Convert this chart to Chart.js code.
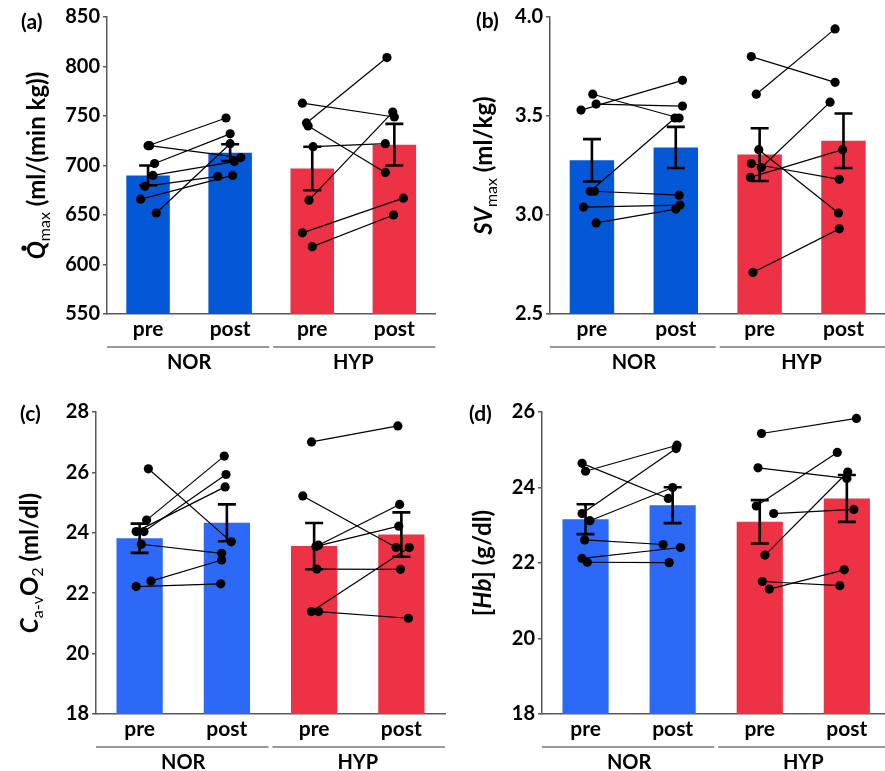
<!DOCTYPE html>
<html>
<head>
<meta charset="utf-8">
<script src="https://cdn.jsdelivr.net/npm/chart.js@4.4.0/dist/chart.umd.min.js"></script>
<style>
  html, body { margin: 0; padding: 0; background: #fff; overflow: hidden; width: 885px; height: 771px; }
  .panel { position: absolute; }
</style>
</head>
<body>
<div class="panel" style="left:0;top:0"><canvas id="pa" width="440" height="380"></canvas></div>
<div class="panel" style="left:440px;top:0"><canvas id="pb" width="450" height="380"></canvas></div>
<div class="panel" style="left:0;top:380px"><canvas id="pc" width="450" height="391"></canvas></div>
<div class="panel" style="left:440px;top:380px"><canvas id="pd" width="455" height="391"></canvas></div>
<script>
const categories = ['pre', 'post', 'pre', 'post'];
const groups = ['NOR', 'HYP'];

// (a) Q max
const qMean = [690, 713, 697, 721];
const qSem = [10, 8.5, 22, 21];
const qNorPre = [720, 720, 702, 690, 679, 666, 652];
const qNorPost = [748, 708, 732, 704, 689, 690, 722];
const qHypPre = [763, 743, 740, 719, 665, 632, 618];
const qHypPost = [749, 809, 693, 722, 754, 667, 650];

// (b) SV max
const svMean = [3.276, 3.341, 3.305, 3.375];
const svSem = [0.107, 0.104, 0.133, 0.138];
const svNorPre = [3.61, 3.56, 3.53, 3.12, 3.12, 3.04, 2.96];
const svNorPost = [3.49, 3.55, 3.68, 3.49, 3.10, 3.05, 3.03];
const svHypPre = [3.80, 3.61, 3.33, 3.26, 3.24, 3.19, 2.71];
const svHypPost = [3.67, 3.94, 3.01, 3.18, 3.57, 3.33, 2.93];

// (c) Ca-vO2
const caMean = [23.82, 24.33, 23.56, 23.94];
const caSem = [0.485, 0.61, 0.765, 0.735];
const caNorPre = [26.12, 24.42, 24.04, 24.04, 23.62, 22.40, 22.22];
const caNorPost = [23.70, 26.54, 25.93, 25.52, 23.32, 23.10, 22.31];
const caHypPre = [27.01, 25.22, 23.59, 23.55, 22.80, 21.39, 21.39];
const caHypPost = [27.54, 23.51, 24.94, 24.22, 22.79, 23.51, 21.17];

// (d) [Hb]
const hbMean = [23.16, 23.53, 23.09, 23.71];
const hbSem = [0.395, 0.475, 0.575, 0.62];
const hbNorPre = [24.64, 24.43, 23.31, 23.12, 22.61, 22.12, 22.02];
const hbNorPost = [23.71, 25.12, 25.03, 24.00, 22.49, 22.41, 22.01];
const hbHypPre = [25.43, 24.52, 23.51, 23.31, 22.21, 21.51, 21.31];
const hbHypPost = [25.83, 24.24, 24.93, 23.42, 24.41, 21.40, 21.82];

// horizontal jitter of the individual dots (fraction of a category)
const qJit = [[0, 0.02, 0.08, 0.06, -0.04, -0.09, 0.10], [-0.05, 0.13, 0, 0.05, -0.15, 0.03, 0],
              [-0.12, -0.07, -0.05, 0.01, -0.04, -0.12, 0], [0, -0.09, -0.11, -0.11, -0.02, 0.11, -0.01]];
const svJit = [[0.01, 0.05, -0.13, -0.02, 0.03, -0.10, 0.05], [0.04, 0.08, 0.08, -0.01, 0.04, 0.05, 0],
               [-0.10, -0.04, -0.01, -0.10, 0.02, -0.11, -0.08], [-0.10, -0.10, -0.06, -0.05, -0.16, -0.01, -0.05]];
const caJit = [[0.10, 0.08, 0.05, -0.04, 0.02, 0.13, -0.04], [0.05, -0.03, -0.01, -0.02, -0.06, -0.06, -0.07],
               [-0.03, -0.13, 0.05, 0.02, 0.03, -0.03, 0.05], [-0.04, -0.06, -0.02, -0.03, -0.01, 0.09, 0.08]];
const hbJit = [[-0.04, 0, -0.04, 0.05, -0.01, -0.04, 0.02], [-0.05, 0.05, 0.04, 0, -0.11, 0.09, -0.04],
               [0.02, -0.02, -0.04, 0.16, 0.06, 0.03, 0.11], [0.11, 0, -0.11, 0.08, 0.01, -0.08, -0.03]];

const RED = '#ee3246';
const AXIS = '#5a5a5a';
const FONT = 'Lato, "Open Sans", sans-serif';

const panels = [
    { id: 'pa', letter: '(a)', mean: qMean, sem: qSem, sets: [qNorPre, qNorPost, qHypPre, qHypPost], jit: qJit,
      yMin: 550, yMax: 850, step: 50, dec: 0, blue: '#0457d5',
      yWidth: 107, padTop: 17, padRight: 2, xHeight: 66, titleX: 37, letterX: 21, letterY: 22,
      title: [{ t: 'Q', it: true, dot: true }, { t: 'max', sub: true }, { t: ' (ml/(min kg))' }] },
    { id: 'pb', letter: '(b)', mean: svMean, sem: svSem, sets: [svNorPre, svNorPost, svHypPre, svHypPost], jit: svJit,
      yMin: 2.5, yMax: 4.0, step: 0.5, dec: 1, blue: '#0457d5',
      yWidth: 110, padTop: 17, padRight: 3, xHeight: 66, titleX: 44, letterX: 36, letterY: 21,
      title: [{ t: 'SV', it: true }, { t: 'max', sub: true }, { t: ' (ml/kg)' }] },
    { id: 'pc', letter: '(c)', mean: caMean, sem: caSem, sets: [caNorPre, caNorPost, caHypPre, caHypPost], jit: caJit,
      yMin: 18, yMax: 28, step: 2, dec: 0, blue: '#2b69f6',
      yWidth: 96, padTop: 32, padRight: 5, xHeight: 57, titleX: 30, letterX: 20, letterY: 34,
      title: [{ t: 'C', it: true }, { t: 'a-v', sub: true }, { t: 'O' }, { t: '2', sub: true }, { t: ' (ml/dl)' }] },
    { id: 'pd', letter: '(d)', mean: hbMean, sem: hbSem, sets: [hbNorPre, hbNorPost, hbHypPre, hbHypPost], jit: hbJit,
      yMin: 18, yMax: 26, step: 2, dec: 0, blue: '#2b69f6',
      yWidth: 102, padTop: 32, padRight: 4, xHeight: 57, titleX: 43, letterX: 29, letterY: 34,
      title: [{ t: '[' }, { t: 'Hb', it: true }, { t: '] (g/dl)' }] }
];

function partFont(p) {
    if (p.sub) return '16px ' + FONT;
    return (p.it ? 'italic ' : '') + 'bold 24px ' + FONT;
}

function drawTitle(ctx, cx, cy, parts) {
    ctx.save();
    ctx.translate(cx, cy);
    ctx.rotate(-Math.PI / 2);
    ctx.fillStyle = '#000';
    ctx.textBaseline = 'middle';
    ctx.textAlign = 'left';
    let total = 0;
    const widths = parts.map(p => { ctx.font = partFont(p); const w = ctx.measureText(p.t).width; total += w; return w; });
    let x = -total / 2;
    parts.forEach((p, i) => {
        ctx.font = partFont(p);
        ctx.fillText(p.t, x, p.sub ? 8 : 0);
        if (p.dot) {
            ctx.beginPath();
            ctx.arc(x + widths[i] / 2 + 2, -13, 2.6, 0, Math.PI * 2);
            ctx.fill();
        }
        x += widths[i];
    });
    ctx.restore();
}

function makeChart(p) {
    const datasets = [{
        type: 'bar',
        data: p.mean.map((v, i) => ({ x: i, y: v })),
        backgroundColor: [p.blue, p.blue, RED, RED],
        categoryPercentage: 1,
        barPercentage: 0.53,
        order: 1
    }];
    [[0, 1, 0], [2, 3, 2]].forEach(([a, b, base]) => {
        p.sets[a].forEach((v, k) => {
            datasets.push({
                type: 'line',
                data: [{ x: base + p.jit[a][k], y: v }, { x: base + 1 + p.jit[b][k], y: p.sets[b][k] }],
                borderColor: '#000',
                borderWidth: 1.2,
                pointRadius: 4.6,
                pointBackgroundColor: '#000',
                pointBorderWidth: 0,
                order: 0
            });
        });
    });

    const errorBars = {
        id: 'errorBars',
        afterDatasetDraw(chart, args) {
            if (args.index !== 0) return;
            const ys = chart.scales.y;
            const ctx = chart.ctx;
            ctx.save();
            ctx.strokeStyle = '#000';
            ctx.lineWidth = 2.6;
            args.meta.data.forEach((bar, i) => {
                const top = ys.getPixelForValue(p.mean[i] + p.sem[i]);
                const bot = ys.getPixelForValue(p.mean[i] - p.sem[i]);
                ctx.beginPath();
                ctx.moveTo(bar.x, top); ctx.lineTo(bar.x, bot);
                ctx.moveTo(bar.x - 9, top); ctx.lineTo(bar.x + 9, top);
                ctx.moveTo(bar.x - 9, bot); ctx.lineTo(bar.x + 9, bot);
                ctx.stroke();
            });
            ctx.restore();
        }
    };

    const decorations = {
        id: 'decorations',
        afterDraw(chart) {
            const ctx = chart.ctx;
            const xs = chart.scales.x;
            const area = chart.chartArea;
            ctx.save();
            // panel letter
            ctx.fillStyle = '#000';
            ctx.font = 'bold 21px ' + FONT;
            ctx.textBaseline = 'middle';
            ctx.textAlign = 'left';
            ctx.fillText(p.letter, p.letterX, p.letterY);
            // group brackets
            const ly = area.bottom + 33;
            ctx.strokeStyle = '#777';
            ctx.lineWidth = 1.5;
            ctx.beginPath();
            ctx.moveTo(xs.getPixelForValue(-0.5), ly); ctx.lineTo(xs.getPixelForValue(1.5) - 2, ly);
            ctx.moveTo(xs.getPixelForValue(1.5) + 2, ly); ctx.lineTo(xs.getPixelForValue(3.5), ly);
            ctx.stroke();
            ctx.font = 'bold 20px ' + FONT;
            ctx.textAlign = 'center';
            ctx.fillText(groups[0], xs.getPixelForValue(0.5), area.bottom + 49);
            ctx.fillText(groups[1], xs.getPixelForValue(2.5), area.bottom + 49);
            ctx.restore();
            drawTitle(ctx, p.titleX, (area.top + area.bottom) / 2, p.title);
        }
    };

    return new Chart(document.getElementById(p.id), {
        type: 'bar',
        data: { datasets },
        plugins: [errorBars, decorations],
        options: {
            responsive: false,
            animation: false,
            layout: { padding: { top: p.padTop, right: p.padRight, left: 0, bottom: 0 } },
            plugins: { legend: { display: false }, tooltip: { enabled: false } },
            scales: {
                x: {
                    type: 'linear',
                    offset: false,
                    min: -0.5,
                    max: 3.5,
                    afterBuildTicks: s => { s.ticks = categories.map((c, i) => ({ value: i })); },
                    ticks: {
                        callback: v => categories[v],
                        autoSkip: false,
                        maxRotation: 0,
                        padding: 3,
                        color: '#000',
                        font: { family: FONT, size: 21, weight: 'bold' }
                    },
                    grid: { display: false, drawTicks: false },
                    border: { display: true, color: AXIS, width: 1.5 },
                    afterFit: s => { s.height = p.xHeight; }
                },
                y: {
                    min: p.yMin,
                    max: p.yMax,
                    ticks: {
                        stepSize: p.step,
                        callback: v => v.toFixed(p.dec),
                        padding: 3,
                        color: '#000',
                        font: { family: FONT, size: 20, weight: 'bold' }
                    },
                    grid: { display: true, drawOnChartArea: false, drawTicks: true, tickLength: 4, color: AXIS, lineWidth: 1.5 },
                    border: { display: true, color: AXIS, width: 1.5 },
                    afterFit: s => { s.width = p.yWidth; }
                }
            }
        }
    });
}

panels.forEach(makeChart);
</script>
</body>
</html>
